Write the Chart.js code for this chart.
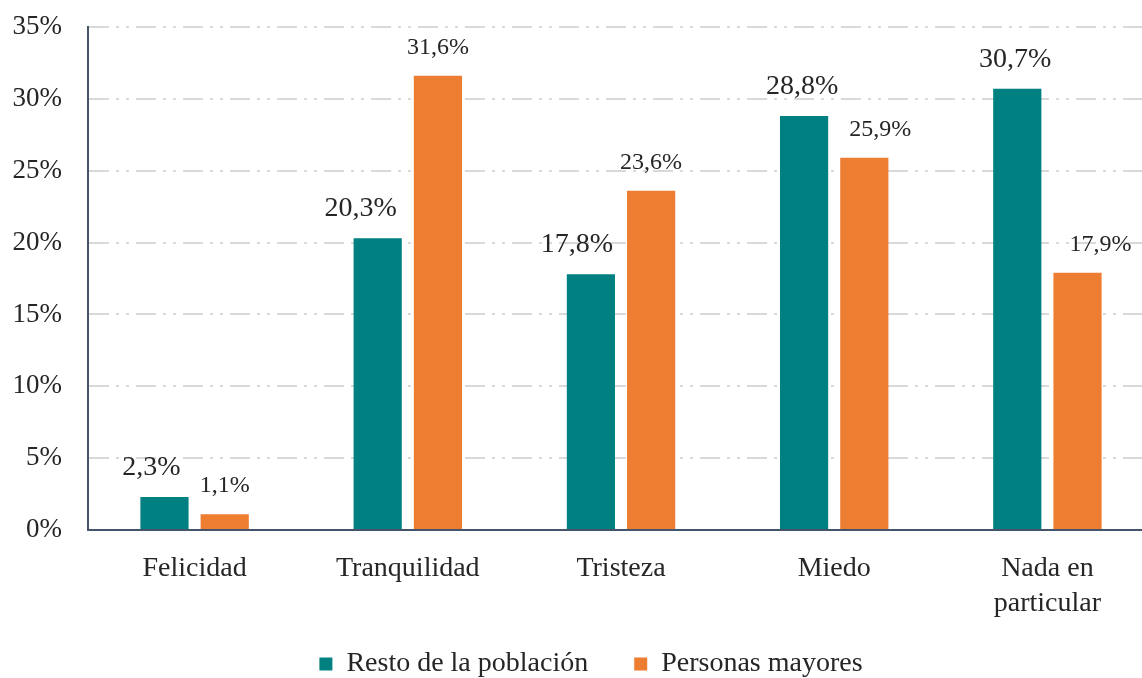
<!DOCTYPE html>
<html><head><meta charset="utf-8">
<script src="https://cdn.jsdelivr.net/npm/chart.js@4/dist/chart.umd.min.js"></script>
<style>html,body{margin:0;padding:0;background:#fff;overflow:hidden}#wrap{width:1154px;height:678px}</style>
</head><body><div id="wrap"><canvas id="c" width="1154" height="678"></canvas></div>
<script>
const categories = ['Felicidad', 'Tranquilidad', 'Tristeza', 'Miedo', ['Nada en', 'particular']];
const restoPoblacion = [2.3, 20.3, 17.8, 28.8, 30.7];
const personasMayores = [1.1, 31.6, 23.6, 25.9, 17.9];
const seriesNames = ['Resto de la población', 'Personas mayores'];
const yTicks = [0, 5, 10, 15, 20, 25, 30, 35];

const FONT = '"Liberation Serif", "DejaVu Serif", serif';
const fmt = v => v.toFixed(1).replace('.', ',') + '%';
// manual label nudges (pixels) as in the original
const labelNudge = [[-13, -17, -14, -2, -2], [0, 0, 0, 16, 23]];

const labelPlugin = {
  id: 'barLabels',
  afterLayout(chart) {
    const L = chart.legend;
    if (L) { L.top -= 18; L.bottom -= 18; L.left += 10; L.right += 10; }
  },
  afterDatasetsDraw(chart) {
    const ctx = chart.ctx;
    chart.data.datasets.forEach((ds, i) => {
      const meta = chart.getDatasetMeta(i);
      const size = i === 0 ? 28 : 24;
      ctx.save();
      ctx.font = size + 'px ' + FONT;
      ctx.fillStyle = '#262626';
      ctx.textAlign = 'center';
      ctx.textBaseline = 'alphabetic';
      meta.data.forEach((bar, j) => {
        ctx.fillText(fmt(ds.data[j]), bar.x + labelNudge[i][j], bar.y - 22);
      });
      ctx.restore();
    });
  }
};

new Chart(document.getElementById('c'), {
  type: 'bar',
  data: {
    labels: categories,
    datasets: [
      { label: seriesNames[0], data: restoPoblacion, backgroundColor: '#008080' },
      { label: seriesNames[1], data: personasMayores, backgroundColor: '#ED7D31' }
    ]
  },
  options: {
    responsive: false,
    animation: false,
    devicePixelRatio: 1,
    categoryPercentage: 0.565,
    barPercentage: 0.8,
    layout: { padding: { left: 8, top: 27, right: 0, bottom: -28 } },
    plugins: {
      legend: {
        position: 'bottom',
        labels: {
          font: { family: FONT, size: 28 },
          color: '#262626',
          boxWidth: 13, boxHeight: 13,
          padding: 46
        }
      },
      tooltip: { enabled: false }
    },
    scales: {
      x: {
        grid: { display: false, drawTicks: false },
        border: { display: true, color: '#44546A', width: 2 },
        ticks: { font: { family: FONT, size: 28, lineHeight: 1.25 }, color: '#262626', padding: 21 },
        afterFit: s => { s.height = 92; }
      },
      y: {
        min: 0, max: 35,
        afterBuildTicks: s => { s.ticks = yTicks.map(v => ({ value: v })); },
        grid: { color: '#D9D9D9', lineWidth: 2, drawTicks: true, tickLength: 24, tickColor: 'rgba(0,0,0,0)' },
        border: { display: true, color: '#44546A', width: 2, dash: [20, 7, 3, 7, 3, 7] },
        ticks: { font: { family: FONT, size: 27 }, color: '#262626', padding: 2, callback: v => v + '%' },
        afterFit: s => { s.width = 80; }
      }
    }
  },
  plugins: [labelPlugin]
});
</script></body></html>
